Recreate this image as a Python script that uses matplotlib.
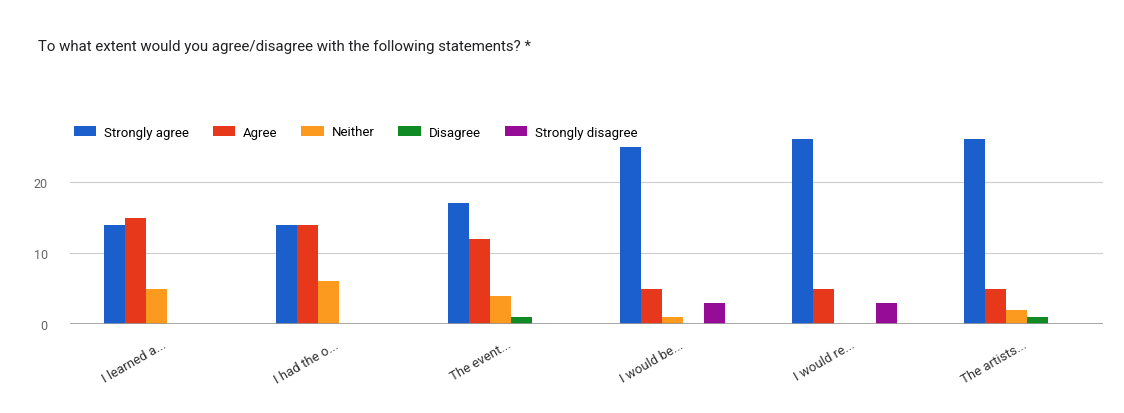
import numpy as np
import matplotlib.pyplot as plt
import matplotlib.transforms as mtransforms

plt.rcParams['font.family'] = ['Roboto', 'DejaVu Sans']

# Survey answers per statement
statements = ['I learned a...', 'I had the o...', 'The event...',
              'I would be...', 'I would re...', 'The artists...']
strongly_agree = [14, 14, 17, 25, 26, 26]
agree = [15, 14, 12, 5, 5, 5]
neither = [5, 6, 4, 1, 0, 2]
disagree = [0, 0, 1, 0, 0, 1]
strongly_disagree = [0, 0, 0, 3, 3, 0]

series = [strongly_agree, agree, neither, disagree, strongly_disagree]
names = ['Strongly agree', 'Agree', 'Neither', 'Disagree', 'Strongly disagree']
colors = ['#1a5fcc', '#e8381c', '#fb9a1e', '#0f8a24', '#960c96']

fig = plt.figure(figsize=(11.24, 4.14), dpi=100)
ax = fig.add_axes([70 / 1124, 1 - 325 / 414, 1033 / 1124, 200 / 414])

x = np.arange(len(statements))
w = 0.122
for i, (vals, name, c) in enumerate(zip(series, names, colors)):
    ax.bar(x + (i - 2) * w, vals, width=w, color=c, label=name, zorder=3)

ax.set_xlim(-0.5, len(statements) - 0.5)
ax.set_ylim(0, 200 / 7.1)
ax.set_yticks([0, 10, 20])
ax.grid(axis='y', color='#cccccc', linewidth=0.8, zorder=0)
ax.axhline(0, color='#999999', linewidth=1.2, zorder=4)
for s in ax.spines.values():
    s.set_visible(False)
ax.tick_params(axis='y', length=0, labelsize=9, labelcolor='#666666', pad=16)
ax.tick_params(axis='x', length=0, labelsize=9.5, labelcolor='#333333', pad=10)
ax.set_xticks(x)
ax.set_xticklabels(statements, rotation=30, ha='right', rotation_mode='anchor')
shift = mtransforms.ScaledTranslation(6 / 100, 0, fig.dpi_scale_trans)
for lbl in ax.get_xticklabels():
    lbl.set_transform(lbl.get_transform() + shift)

fig.text(38 / 1124, 1 - 47 / 414,
         'To what extent would you agree/disagree with the following statements? *',
         fontsize=10.8, color='#202124', va='center')

fig.legend(loc='center left', bbox_to_anchor=(62 / 1124, 1 - 133 / 414), ncol=5,
           frameon=False, fontsize=9.5, handlelength=1.7, handleheight=0.7,
           columnspacing=1.8, handletextpad=0.6)

fig.savefig('out.png', dpi=100, facecolor='white')
